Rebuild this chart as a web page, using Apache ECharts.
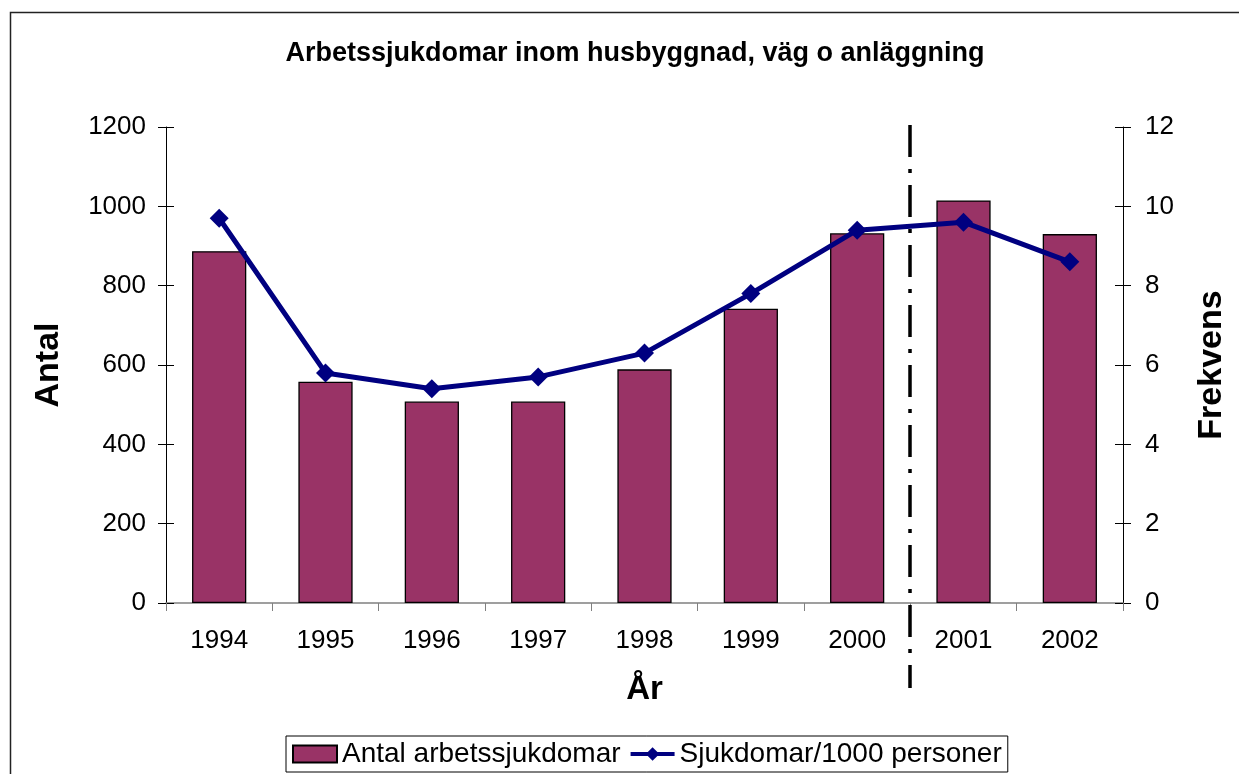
<!DOCTYPE html>
<html>
<head>
<meta charset="utf-8">
<script src="https://cdn.jsdelivr.net/npm/echarts@6.0.0/dist/echarts.min.js"></script>
<style>
  html, body { margin: 0; padding: 0; background: #fff; }
  #chart { width: 1239px; height: 774px; }
</style>
</head>
<body>
<div id="chart"></div>
<script>
// data
var years = ['1994', '1995', '1996', '1997', '1998', '1999', '2000', '2001', '2002'];
var antal = [887, 558, 508, 508, 589, 742, 932, 1015, 930];
var frekvens = [9.7, 5.8, 5.4, 5.7, 6.3, 7.8, 9.4, 9.6, 8.6];
var leftTicks = [0, 1200, 200];
var rightTicks = [0, 12, 2];
var splitAfter = 6; // index of 2000, line drawn between 2000 and 2001

var font = 'Liberation Sans, Arial, sans-serif';

var chart = echarts.init(document.getElementById('chart'));

function yAxisBase(ticks, pos) {
    return {
        type: 'value',
        position: pos,
        min: ticks[0],
        max: ticks[1],
        interval: ticks[2],
        splitLine: { show: false },
        axisLine: { show: true, lineStyle: { color: '#000', width: 1 } },
        axisTick: { show: true, length: 8, lineStyle: { color: '#000', width: 1 } }
    };
}

// left / right axes with labels, plus two copies for the inner half of the ticks
var yLeft = yAxisBase(leftTicks, 'left');
yLeft.axisLabel = {
    color: '#000', fontFamily: font, fontSize: 26, margin: 20,
    formatter: function (v) { return String(v); }
};
yLeft.name = 'Antal';
yLeft.nameLocation = 'middle';
yLeft.nameRotate = 90;
yLeft.nameGap = 100;
yLeft.nameTextStyle = { color: '#000', fontFamily: font, fontSize: 34, fontWeight: 'bold' };

var yRight = yAxisBase(rightTicks, 'right');
yRight.axisLabel = {
    color: '#000', fontFamily: font, fontSize: 26, margin: 22,
    formatter: function (v) { return String(v); }
};
yRight.name = 'Frekvens';
yRight.nameLocation = 'middle';
yRight.nameRotate = 90;
yRight.nameGap = 72;
yRight.nameTextStyle = { color: '#000', fontFamily: font, fontSize: 34, fontWeight: 'bold' };

var yLeftIn = yAxisBase(leftTicks, 'left');
yLeftIn.axisLine.show = false;
yLeftIn.axisTick.inside = true;
yLeftIn.axisLabel = { show: false };

var yRightIn = yAxisBase(rightTicks, 'right');
yRightIn.axisLine.show = false;
yRightIn.axisTick.inside = true;
yRightIn.axisLabel = { show: false };

chart.setOption({
    backgroundColor: '#fff',
    animation: false,
    title: {
        text: 'Arbetssjukdomar inom husbyggnad, väg o anläggning',
        left: 630,
        textAlign: 'center',
        top: 35,
        textStyle: { color: '#000', fontFamily: font, fontSize: 27, fontWeight: 'bold' }
    },
    grid: {
        left: 166,
        right: 116,
        top: 127,
        bottom: 171,
        containLabel: false,
        outerBoundsMode: 'none'
    },
    legend: {
        left: 286,
        top: 736,
        orient: 'horizontal',
        padding: [3, 6, 3, 6],
        itemGap: 8,
        itemWidth: 44,
        itemHeight: 17,
        borderColor: '#000',
        borderWidth: 1,
        backgroundColor: '#fff',
        textStyle: { color: '#000', fontFamily: font, fontSize: 28, lineHeight: 30 },
        data: [
            { name: 'Antal arbetssjukdomar', icon: 'rect' },
            { name: 'Sjukdomar/1000 personer', lineStyle: { width: 4 } }
        ]
    },
    xAxis: {
        type: 'category',
        data: years,
        name: 'År',
        nameLocation: 'middle',
        nameGap: 70,
        nameTextStyle: { color: '#000', fontFamily: font, fontSize: 33, fontWeight: 'bold' },
        axisLine: { lineStyle: { color: '#808080', width: 1.5 } },
        axisTick: { show: true, length: 8, alignWithLabel: false, lineStyle: { color: '#808080' } },
        axisLabel: { color: '#000', fontFamily: font, fontSize: 26, margin: 25 }
    },
    yAxis: [yLeft, yRight, yLeftIn, yRightIn],
    series: [{
        name: 'Antal arbetssjukdomar',
        type: 'bar',
        yAxisIndex: 0,
        barWidth: '51%',
        itemStyle: { color: '#993366', borderColor: '#000', borderWidth: 1.3 },
        data: antal
    }, {
        name: 'Sjukdomar/1000 personer',
        type: 'line',
        yAxisIndex: 1,
        symbol: 'diamond',
        symbolSize: 19,
        color: '#000080',
        lineStyle: { color: '#000080', width: 5 },
        itemStyle: { color: '#000080' },
        data: frekvens
    }]
});

// dash-dot separator between 2000 and 2001 and the outer frame
var xa = chart.convertToPixel({ xAxisIndex: 0 }, splitAfter);
var xb = chart.convertToPixel({ xAxisIndex: 0 }, splitAfter + 1);
var yTop = chart.convertToPixel({ yAxisIndex: 0 }, leftTicks[1]);
var yBot = chart.convertToPixel({ yAxisIndex: 0 }, leftTicks[0]);
var sepX = Math.round((xa + xb) / 2);

chart.setOption({
    graphic: [{
        type: 'line',
        shape: { x1: sepX, y1: yTop - 2, x2: sepX, y2: yBot + 85 },
        style: { stroke: '#000', lineWidth: 3.5, lineDash: [32, 12, 4, 12] },
        z: 10
    }, {
        type: 'rect',
        shape: { x: 10.5, y: 12.5, width: 1260, height: 800 },
        style: { stroke: '#222', lineWidth: 1.5, fill: null },
        z: 0
    }]
});
</script>
</body>
</html>
